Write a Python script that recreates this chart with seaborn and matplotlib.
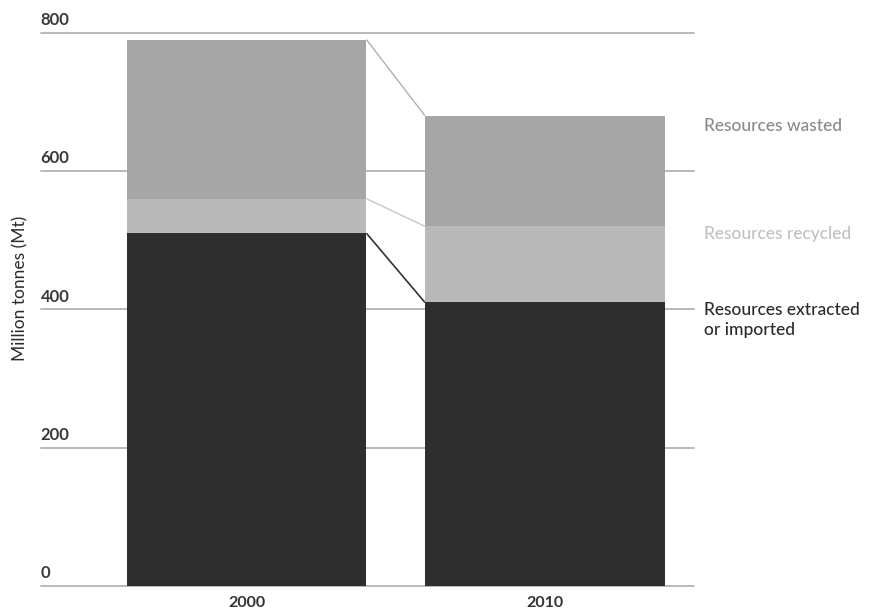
import matplotlib
matplotlib.use("Agg")
import matplotlib.pyplot as plt
import matplotlib.transforms as mtransforms
import pandas as pd
import seaborn as sns

# Resource flows (million tonnes)
years = ["2000", "2010"]
extracted = [510, 410]
recycled = [50, 110]
wasted = [230, 160]
y_ticks = [0, 200, 400, 600, 800]

series_labels = ["Resources wasted", "Resources recycled", "Resources extracted\nor imported"]

c_wasted = "#a6a6a6"
c_recycled = "#b9b9b9"
c_extracted = "#2e2e2e"

sns.set_theme(style="white")
plt.rcParams["font.family"] = ["Lato", "DejaVu Sans"]

df = pd.DataFrame({"year": years, "extracted": extracted,
                   "recycled": recycled, "wasted": wasted})
df["top_recycled"] = df["extracted"] + df["recycled"]
df["top_wasted"] = df["top_recycled"] + df["wasted"]

fig = plt.figure(figsize=(8.75, 6.1), dpi=100)
W, H = 875, 610
ax = fig.add_axes([40.7 / W, 1 - 586 / H, (694 - 40.7) / W, (586 - 32.7) / H])

bar_w = 0.804
# stacked bars drawn back to front as cumulative totals
for col, color in [("top_wasted", c_wasted), ("top_recycled", c_recycled),
                   ("extracted", c_extracted)]:
    sns.barplot(data=df, x="year", y=col, color=color, width=bar_w,
                saturation=1, ax=ax, zorder=3, linewidth=0)

ax.set_xlim(-0.69, 1.5)
ax.set_ylim(0, 800)

# horizontal gridlines with labels sitting above them
trans = mtransforms.blended_transform_factory(ax.transAxes, ax.transData)
for t in y_ticks:
    ax.axhline(t, color="#b3b3b3", lw=1.3, zorder=1, clip_on=False)
    ax.text(0.0, t + 7, f"{t}", transform=trans, ha="left", va="bottom",
            fontsize=12, color="#3a3a3a", fontweight="bold")

# connectors between the segment tops of both bars
x0 = 0 + bar_w / 2
x1 = 1 - bar_w / 2
for col, color, lw in [("top_wasted", "#b0b0b0", 1.0),
                       ("top_recycled", "#c8c8c8", 1.0),
                       ("extracted", "#333333", 1.2)]:
    ax.plot([x0, x1], [df[col].iloc[0], df[col].iloc[1]], color=color,
            lw=lw, zorder=2, solid_capstyle="butt")

# series labels on the right
label_x = 1.535
ax.text(label_x, 665, series_labels[0], ha="left", va="center",
        fontsize=12.5, color="#8a8a8a", clip_on=False, fontweight="medium")
ax.text(label_x, 509, series_labels[1], ha="left", va="center",
        fontsize=12.5, color="#c0c0c0", clip_on=False, fontweight="medium")
ax.text(label_x, 385, series_labels[2], ha="left", va="center",
        fontsize=12.5, color="#2b2b2b", clip_on=False, linespacing=1.3,
        fontweight="medium")

for s in ax.spines.values():
    s.set_visible(False)
ax.set_yticks([])
ax.set_xlabel("")
ax.set_ylabel("")
ax.tick_params(axis="x", length=0, pad=7, labelsize=11.5, labelcolor="#333333")
for lbl in ax.get_xticklabels():
    lbl.set_fontweight("bold")

fig.text(20 / W, 1 - 288 / H, "Million tonnes (Mt)", rotation=90,
         ha="center", va="center", fontsize=12.5, color="#2b2b2b")

fig.savefig("out.png", dpi=100)
